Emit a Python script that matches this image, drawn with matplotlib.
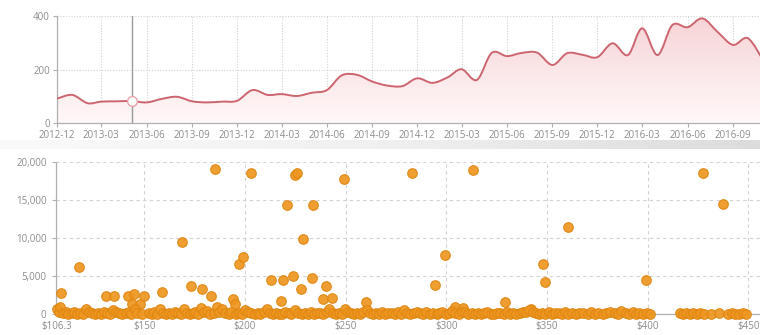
import numpy as np
import pandas as pd
import matplotlib
matplotlib.use('Agg')
import matplotlib.pyplot as plt
import matplotlib.dates as mdates
from matplotlib.path import Path
from matplotlib.patches import PathPatch
from matplotlib.colors import LinearSegmentedColormap

plt.rcParams['font.family'] = ['Open Sans', 'DejaVu Sans']

# monthly series, Dec 2012 onwards
months = pd.date_range('2012-12-01', periods=48, freq='MS')
visits = [91, 105, 74, 80, 81, 82, 77, 90, 98, 81, 77, 80,
          83, 123, 105, 108, 101, 113, 123, 178, 180, 155, 140, 138,
          167, 150, 171, 201, 161, 262, 250, 262, 263, 217, 261, 255,
          246, 298, 254, 354, 254, 366, 358, 391, 340, 292, 317, 235]
cursor_index = 5
quarter_ticks = pd.date_range('2012-12-01', '2016-09-01', freq='3MS')

# price vs. count, the sparse high values
outlier_price = [108.6, 117.7, 130.8, 134.8, 141.8, 145.1, 143.9, 148.0, 149.9, 158.8,
                 168.6, 173.1, 178.8, 183.0, 185.0, 193.9, 194.9, 196.9, 199.0, 202.9,
                 213.0, 218.0, 219.1, 220.9, 224.0, 224.9, 226.0, 228.0, 229.0, 233.2,
                 234.0, 240.1, 239.0, 243.1, 249.1, 260.0, 283.2, 294.3, 299.3, 304.2,
                 308.3, 313.3, 329.2, 342.1, 348.2, 349.2, 360.3, 399.3, 427.4, 437.3]
outlier_count = [2800, 6230, 2370, 2370, 2400, 2630, 1280, 1300, 2370, 2900,
                 9530, 3730, 3300, 2400, 19110, 1940, 1360, 6590, 7470, 18590,
                 4480, 1670, 4530, 14410, 5050, 18280, 18630, 3300, 9840, 4700,
                 14410, 3650, 1980, 2150, 17750, 1630, 18590, 3780, 7780, 880,
                 750, 18940, 1580, 620, 6550, 4260, 11430, 4480, 18590, 14460]

# the dense row of low counts along the bottom
baseline = [
    (106.8, 700), (107.5, 300), (108.3, 900), (109.6, 150), (111.0, 200), (112.2, 50),
    (113.9, 100), (115.3, 250), (116.4, 0), (118.2, 150), (119.5, 50), (121.0, 700),
    (122.6, 200), (124.1, 100), (125.3, 0), (127.0, 150), (128.4, 50), (130.2, 200),
    (131.5, 100), (133.0, 0), (134.7, 500), (136.1, 200), (137.6, 100), (139.0, 0),
    (140.8, 150), (142.3, 300), (143.5, 50), (145.2, 600), (146.6, 100), (148.9, 0),
    (152.3, 100), (153.6, 0), (155.0, 200), (156.4, 50), (157.9, 600), (159.3, 100),
    (160.8, 0), (162.1, 150), (163.7, 50), (165.2, 200), (166.6, 100), (168.0, 0),
    (169.5, 700), (171.0, 150), (172.6, 0), (174.0, 100), (175.4, 300), (176.9, 50),
    (178.3, 800), (179.8, 200), (181.2, 400), (182.7, 0), (184.5, 100), (186.0, 900),
    (187.3, 300), (188.8, 600), (190.2, 100), (191.9, 0), (193.3, 200), (195.6, 50),
    (197.2, 150), (198.6, 0), (200.1, 500), (201.7, 200), (203.2, 100), (204.8, 0),
    (206.3, 150), (207.6, 50), (209.4, 200), (210.8, 600), (212.3, 100), (213.9, 0),
    (215.2, 150), (216.9, 50), (218.4, 0), (219.8, 200), (221.7, 100), (223.1, 0),
    (225.0, 500), (226.4, 150), (228.3, 0), (229.9, 100), (231.2, 50), (232.8, 200),
    (234.5, 0), (235.9, 150), (237.4, 100), (238.8, 0), (240.6, 200), (242.0, 600),
    (243.7, 100), (245.2, 0), (246.8, 150), (248.3, 50), (249.7, 700), (251.2, 200),
    (252.8, 100), (254.3, 0), (255.9, 150), (257.4, 50), (258.8, 200), (260.5, 500),
    (262.0, 100), (263.6, 0), (265.1, 150), (266.7, 50), (268.2, 200), (269.8, 0),
    (271.3, 150), (272.9, 100), (274.4, 0), (276.0, 200), (277.5, 50), (279.1, 470),
    (280.6, 100), (282.2, 0), (283.8, 150), (285.5, 300), (287.0, 100), (288.4, 0),
    (290.1, 200), (291.9, 50), (293.5, 150), (295.2, 0), (296.6, 100), (298.1, 200),
    (299.8, 0), (301.5, 150), (302.9, 400), (304.6, 100), (306.3, 0), (307.8, 300),
    (309.5, 200), (311.0, 0), (312.6, 100), (314.1, 50), (315.7, 150), (317.4, 0),
    (318.9, 100), (320.5, 200), (322.0, 50), (323.7, 0), (325.3, 150), (326.8, 100),
    (328.5, 0), (330.1, 200), (331.6, 50), (333.2, 150), (334.9, 0), (336.5, 100),
    (338.0, 300), (339.6, 200), (341.3, 500), (342.9, 300), (344.4, 100), (346.1, 0),
    (347.7, 150), (349.3, 50), (351.0, 200), (352.5, 0), (354.1, 100), (355.8, 150),
    (357.3, 0), (359.0, 200), (360.6, 50), (362.3, 100), (364.6, 0), (366.2, 150),
    (367.9, 100), (370.5, 0), (372.1, 200), (373.8, 50), (375.5, 100), (377.8, 0),
    (379.4, 150), (381.2, 300), (383.6, 100), (385.3, 0), (387.0, 400), (389.4, 100),
    (391.0, 0), (392.7, 200), (394.4, 50), (396.0, 150), (397.9, 0), (399.6, 100),
    (401.2, 0),
    (416.0, 100), (417.6, 0), (419.3, 150), (421.0, 50), (422.8, 100), (424.5, 0),
    (426.3, 150), (428.0, 50), (431.5, 0), (435.6, 100), (440.0, 0), (441.8, 150),
    (443.6, 50), (445.5, 0), (447.3, 100), (449.0, 0),
]
price_ticks = [106.3, 150, 200, 250, 300, 350, 400, 450]
count_ticks = [0, 5000, 10000, 15000, 20000]

W, H = 760, 335
fig = plt.figure(figsize=(W / 100, H / 100), dpi=100, facecolor='white')

axis_grey = '#b0b0b0'
label_grey = '#8c8c8c'
grid_grey = '#d2d2d2'


def smooth_path(xs, ys, closed_base=None):
    # Catmull-Rom curve through the points, written as cubic Beziers
    n = len(xs)
    verts = [(xs[0], ys[0])]
    codes = [Path.MOVETO]
    for i in range(n - 1):
        a = max(i - 1, 0)
        d = min(i + 2, n - 1)
        c1 = (xs[i] + (xs[i + 1] - xs[a]) / 6, ys[i] + (ys[i + 1] - ys[a]) / 6)
        c2 = (xs[i + 1] - (xs[d] - xs[i]) / 6, ys[i + 1] - (ys[d] - ys[i]) / 6)
        verts += [c1, c2, (xs[i + 1], ys[i + 1])]
        codes += [Path.CURVE4] * 3
    if closed_base is not None:
        verts += [(xs[-1], closed_base), (xs[0], closed_base), (xs[0], ys[0])]
        codes += [Path.LINETO, Path.LINETO, Path.CLOSEPOLY]
    return Path(verts, codes)


# ---- top: time series ----
ax1 = fig.add_axes([57 / W, 1 - 123 / H, 1 - 57 / W, (123 - 16) / H])
xs = mdates.date2num(months)
x_left = mdates.date2num(pd.Timestamp('2012-12-01'))
px_per_day = (733 - 57) / (mdates.date2num(pd.Timestamp('2016-09-01')) - x_left)
x_right = x_left + (W - 57) / px_per_day
ax1.set_xlim(x_left, x_right)
ax1.set_ylim(0, 400)

area = PathPatch(smooth_path(xs, visits, closed_base=0), facecolor='none', edgecolor='none')
ax1.add_patch(area)
pink = LinearSegmentedColormap.from_list('pink', ['#fff8f8', '#fbe6e8', '#f7d3d6'])
grad = ax1.imshow(np.linspace(0, 1, 256).reshape(-1, 1), cmap=pink, origin='lower',
                  extent=[xs[0], xs[-1], 0, 400], aspect='auto', zorder=1)
grad.set_clip_path(area)
ax1.add_patch(PathPatch(smooth_path(xs, visits), facecolor='none',
                        edgecolor='#cd6570', lw=1.4, zorder=3))

ax1.axvline(xs[cursor_index], color='#9a9a9a', lw=1, zorder=4)
ax1.plot(xs[cursor_index], visits[cursor_index], 'o', ms=7, mfc='white',
         mec='#e9a3aa', mew=1, zorder=5)

ax1.set_xticks(mdates.date2num(quarter_ticks))
ax1.xaxis.set_major_formatter(mdates.DateFormatter('%Y-%m'))
ax1.set_yticks([0, 200, 400])
ax1.grid(True, linestyle=(0, (1, 1.5)), color=grid_grey, lw=0.8)
ax1.set_axisbelow(True)

# ---- bottom: scatter ----
ax2 = fig.add_axes([56.3 / W, 1 - 314 / H, 1 - 56.3 / W, (314 - 162.3) / H])
price_all = outlier_price + [p for p, c in baseline]
count_all = outlier_count + [c for p, c in baseline]
ax2.scatter(price_all, count_all, s=48, color='#ee9620', edgecolors='#de8610',
            linewidths=0.8, alpha=0.92, zorder=3, clip_on=False)
ax2.set_xlim(106.3, 106.3 + (W - 56.3) / 2.013)
ax2.set_ylim(0, 20000)
ax2.set_xticks(price_ticks)
ax2.set_xticklabels(['$' + f'{p:g}' for p in price_ticks])
ax2.set_yticks(count_ticks)
ax2.set_yticklabels([f'{c:,}' for c in count_ticks])
ax2.grid(True, linestyle=(0, (3, 3)), color=grid_grey, lw=0.8)
ax2.set_axisbelow(True)

for ax in (ax1, ax2):
    ax.set_facecolor('none')
    for side in ('top', 'right'):
        ax.spines[side].set_visible(False)
    for side in ('left', 'bottom'):
        ax.spines[side].set_color(axis_grey)
        ax.spines[side].set_linewidth(0.9)
    ax.tick_params(colors=axis_grey, labelcolor=label_grey, labelsize=7,
                   length=3, width=0.8, pad=2)
ax2.tick_params(axis='x', length=0, pad=5)
ax2.tick_params(axis='y', pad=4)

# shaded slider strip between the two panels
band = fig.add_axes([0, 1 - 149 / H, 1, 9 / H])
band_cmap = LinearSegmentedColormap.from_list('band', ['#fafafa', '#f0f0f0', '#dcdcdc'])
band.imshow(np.linspace(0, 1, 256).reshape(1, -1), cmap=band_cmap, aspect='auto')
band.axis('off')

fig.savefig('out.png', dpi=100, facecolor='white')
